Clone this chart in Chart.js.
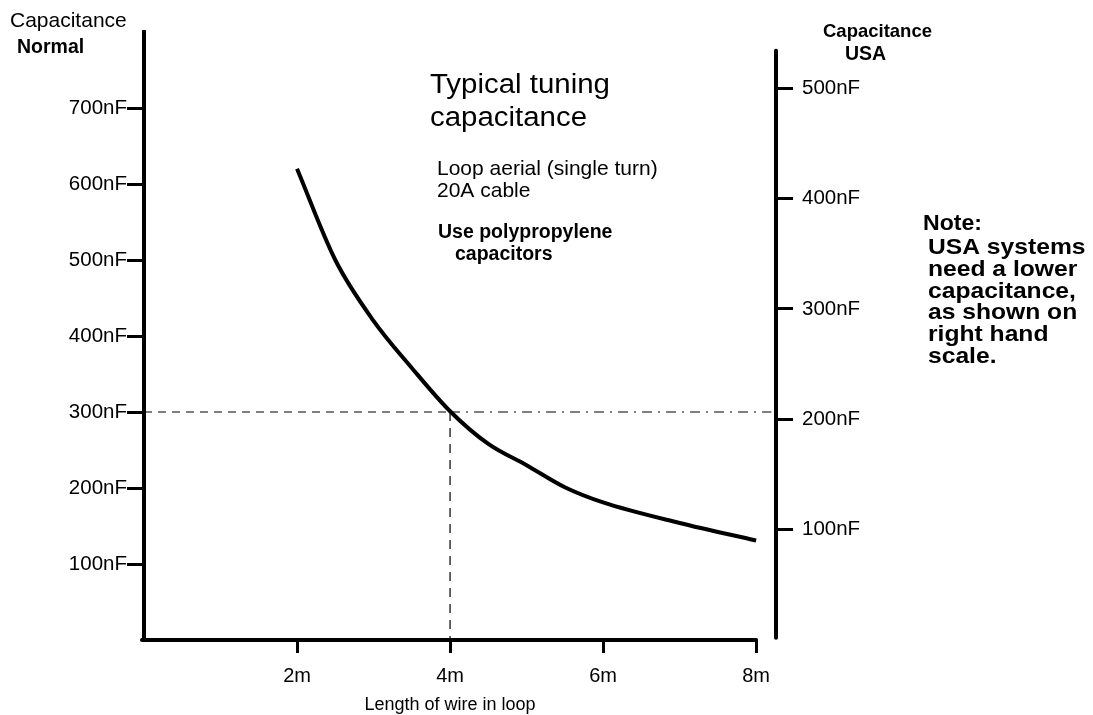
<!DOCTYPE html>
<html>
<head>
<meta charset="utf-8">
<title>Typical tuning capacitance</title>
<script src="https://cdn.jsdelivr.net/npm/chart.js@4.4.0/dist/chart.umd.min.js"></script>
<style>
  html, body { margin: 0; padding: 0; background: #fff; }
  #wrap { width: 1093px; height: 715px; position: relative; }
</style>
</head>
<body>
<div id="wrap"><canvas id="chart"></canvas></div>
<script>
// Datos
const lengthM = [2, 2.5, 3, 3.5, 4, 4.5, 5, 5.5, 6, 7, 8];
const capNormal = [620, 500, 420, 358, 301, 258, 230, 201, 181, 154, 131];
const xTicks = [2, 4, 6, 8];
const normalTicks = [100, 200, 300, 400, 500, 600, 700];
const usaTicks = [100, 200, 300, 400, 500];
const markLength = 4;     // linea de referencia vertical
const markCap = 300;      // linea de referencia horizontal

const FONT = "'Liberation Sans', Arial, sans-serif";

// Lineas de ejes y textos sueltos
const extrasPlugin = {
  id: "extras",
  afterDraw(chart) {
    const ctx = chart.ctx;
    const x = chart.scales.x, y = chart.scales.y, yu = chart.scales.yUSA;
    ctx.save();
    ctx.strokeStyle = "#000";
    ctx.lineWidth = 4;
    ctx.lineCap = "round";
    // eje x
    ctx.beginPath();
    ctx.moveTo(x.getPixelForValue(0) - 2, y.getPixelForValue(0));
    ctx.lineTo(x.getPixelForValue(8), y.getPixelForValue(0));
    ctx.stroke();
    // eje derecho (USA)
    ctx.beginPath();
    ctx.moveTo(yu.left, yu.getPixelForValue(534));
    ctx.lineTo(yu.left, yu.getPixelForValue(2));
    ctx.stroke();

    ctx.fillStyle = "#000";
    ctx.textBaseline = "alphabetic";
    // sx: estirado horizontal, el original tiene letras algo mas anchas
    const txt = (s, px, py, font, sx = 1) => {
      ctx.save();
      ctx.font = font;
      ctx.translate(px, py);
      ctx.scale(sx, 1);
      ctx.fillText(s, 0, 0);
      ctx.restore();
    };
    txt("Capacitance", 10, 27, "21px " + FONT);
    txt("Normal", 17, 53, "bold 19.5px " + FONT);
    txt("Typical tuning", 430, 93, "27px " + FONT, 1.09);
    txt("capacitance", 430, 126, "27px " + FONT, 1.09);
    txt("Loop aerial (single turn)", 437, 175, "21px " + FONT);
    txt("20A cable", 437, 197, "21px " + FONT);
    txt("Use polypropylene", 438, 238, "bold 19.5px " + FONT);
    txt("capacitors", 455, 260, "bold 19.5px " + FONT);
    txt("Capacitance", 823, 37, "bold 18.5px " + FONT);
    txt("USA", 845, 60, "bold 19.5px " + FONT);
    const note = ["USA systems", "need a lower", "capacitance,", "as shown on", "right hand", "scale."];
    txt("Note:", 923, 230, "bold 22px " + FONT, 1.05);
    note.forEach((s, i) => txt(s, 928, 254 + i * 21.8, "bold 22px " + FONT, 1.12));
    ctx.textAlign = "center";
    txt("Length of wire in loop", 450, 710, "18px " + FONT);
    ctx.restore();
  }
};

const ctx = document.getElementById("chart").getContext("2d");
new Chart(ctx, {
  type: "line",
  data: {
    datasets: [
      {
        label: "Capacitance",
        data: lengthM.map((v, i) => ({ x: v, y: capNormal[i] })),
        borderColor: "#000",
        borderWidth: 4,
        pointRadius: 0,
        cubicInterpolationMode: "monotone",
        yAxisID: "y"
      },
      {
        label: "ref-h",
        data: [{ x: 0, y: markCap }, { x: markLength, y: markCap }],
        borderColor: "#000",
        borderWidth: 1.2,
        borderDash: [8, 6],
        pointRadius: 0,
        yAxisID: "y"
      },
      {
        label: "ref-h2",
        data: [{ x: markLength, y: markCap }, { x: 8.2, y: markCap }],
        borderColor: "#000",
        borderWidth: 1.2,
        borderDash: [10, 6, 2, 6],
        pointRadius: 0,
        yAxisID: "y"
      },
      {
        label: "ref-v",
        data: [{ x: markLength, y: markCap }, { x: markLength, y: 0 }],
        borderColor: "#000",
        borderWidth: 1.2,
        borderDash: [9, 7],
        pointRadius: 0,
        yAxisID: "y"
      }
    ]
  },
  options: {
    responsive: true,
    maintainAspectRatio: false,
    animation: false,
    layout: { padding: { top: 32, left: 0, right: 0, bottom: 0 } },
    plugins: { legend: { display: false }, tooltip: { enabled: false } },
    scales: {
      x: {
        type: "linear",
        min: 0,
        max: 8.26,
        afterBuildTicks: s => { s.ticks = xTicks.map(v => ({ value: v })); },
        afterFit: s => { s.height = 75; },
        ticks: { callback: v => v + "m", color: "#000", padding: 11, maxRotation: 0, autoSkip: false, font: { family: FONT, size: 20 } },
        grid: { drawOnChartArea: false, color: "#000", tickLength: 13, lineWidth: 3 },
        border: { display: false }
      },
      y: {
        position: "left",
        min: 0,
        max: 800,
        afterBuildTicks: s => { s.ticks = normalTicks.map(v => ({ value: v })); },
        afterFit: s => { s.width = 144; },
        ticks: { callback: v => v + "nF", color: "#000", padding: 0, font: { family: FONT, size: 20.5 } },
        grid: { drawOnChartArea: false, color: "#000", tickLength: 17, lineWidth: 3 },
        border: { display: true, color: "#000", width: 4 }
      },
      yUSA: {
        position: "right",
        min: 0,
        max: 551,
        afterBuildTicks: s => { s.ticks = usaTicks.map(v => ({ value: v })); },
        afterFit: s => { s.width = 317; },
        ticks: { callback: v => v + "nF", color: "#000", padding: 9, font: { family: FONT, size: 20.5 } },
        grid: { drawOnChartArea: false, color: "#000", tickLength: 17, lineWidth: 3 },
        border: { display: false }
      }
    }
  },
  plugins: [extrasPlugin]
});
</script>
</body>
</html>
